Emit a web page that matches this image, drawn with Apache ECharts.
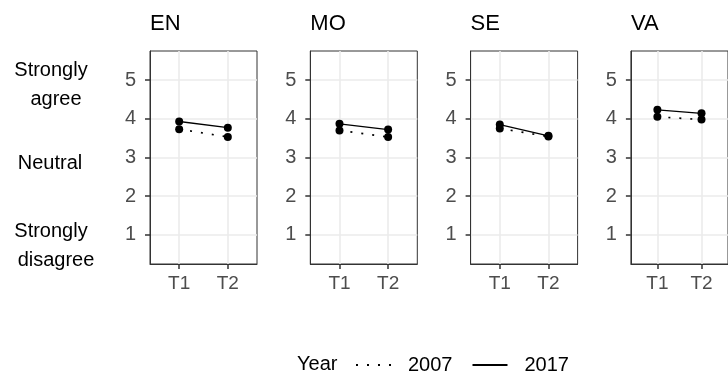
<!DOCTYPE html>
<html>
<head>
<meta charset="utf-8">
<script src="https://cdn.jsdelivr.net/npm/echarts@6/dist/echarts.min.js"></script>
<style>
  html, body { margin: 0; padding: 0; background: #fff; }
  #chart { width: 728px; height: 374px; }
</style>
</head>
<body>
<div id="chart"></div>
<script>
const panels = ['EN', 'MO', 'SE', 'VA'];
const times = ['T1', 'T2'];
const timePos = [1, 2];
const years = ['2007', '2017'];
// one row per panel: [T1, T2]
const values2007 = [[3.73, 3.53], [3.70, 3.53], [3.75, 3.54], [4.05, 3.98]];
const values2017 = [[3.93, 3.77], [3.87, 3.72], [3.85, 3.56], [4.23, 4.14]];
const yTicks = [1, 2, 3, 4, 5];
const scaleLabels = ['Strongly', 'agree', 'Neutral', 'Strongly', 'disagree'];

const FONT = "'Liberation Sans', Arial, sans-serif";
const chart = echarts.init(document.getElementById('chart'));

const grids = [], xAxes = [], yAxes = [], titles = [], series = [];

panels.forEach((p, i) => {
  const left = 150 + i * 160.3;
  grids.push({
    left: left, top: 51, width: 107, height: 213,
    show: true, borderColor: '#333', borderWidth: 1, backgroundColor: '#fff', z: 0
  });
  titles.push({
    text: p, left: left, top: 13, padding: 0,
    textStyle: { fontFamily: FONT, fontSize: 22, fontWeight: 'normal', color: '#000' }
  });
  xAxes.push({
    type: 'value', gridIndex: i, min: 0.4, max: 2.6,
    axisLine: { show: true, onZero: false, lineStyle: { color: '#333', width: 1 } },
    axisTick: { show: true, length: 5, customValues: timePos, lineStyle: { color: '#333', width: 1.5 } },
    axisLabel: {
      customValues: timePos, margin: 10,
      formatter: v => times[timePos.indexOf(v)] || '',
      fontFamily: FONT, fontSize: 19, color: '#4d4d4d'
    },
    splitLine: { show: true, lineStyle: { color: '#ebebeb', width: 1.6 } }
  });
  yAxes.push({
    type: 'value', gridIndex: i, min: 0.25, max: 5.75,
    axisLine: { show: true, onZero: false, lineStyle: { color: '#333', width: 1 } },
    axisTick: { show: true, length: 5, customValues: yTicks, lineStyle: { color: '#333', width: 1.5 } },
    axisLabel: {
      customValues: yTicks, margin: 14,
      fontFamily: FONT, fontSize: 20, color: '#4d4d4d'
    },
    splitLine: { show: true, lineStyle: { color: '#ebebeb', width: 1.6 } }
  });
  [values2007, values2017].forEach((vals, k) => {
    series.push({
      name: years[k], type: 'line', xAxisIndex: i, yAxisIndex: i,
      data: timePos.map((x, j) => [x, vals[i][j]]),
      symbol: 'circle', symbolSize: 8, showSymbol: true,
      itemStyle: { color: '#000' },
      lineStyle: k === 0
        ? { color: '#000', width: 1.7, type: [2, 9] }
        : { color: '#000', width: 1.3, type: 'solid' },
      z: 3, silent: true
    });
  });
});

// left-side scale words
const labelPos = [[51, 70], [56, 99], [50, 163], [51, 231], [56, 260]];
const graphics = scaleLabels.map((t, i) => ({
  type: 'text', x: labelPos[i][0], y: labelPos[i][1],
  style: { text: t, fontFamily: FONT, fontSize: 20, fill: '#000', align: 'center', verticalAlign: 'middle' }
}));
graphics.push({
  type: 'text', x: 297, y: 364,
  style: { text: 'Year', fontFamily: FONT, fontSize: 20, fill: '#000', align: 'left', verticalAlign: 'middle' }
});

chart.setOption({
  animation: false,
  backgroundColor: '#fff',
  title: titles,
  grid: grids,
  xAxis: xAxes,
  yAxis: yAxes,
  legend: {
    data: years, left: 355, top: 355, padding: 0,
    itemWidth: 35, itemHeight: 14, itemGap: 19,
    itemStyle: { opacity: 0 },
    textStyle: { fontFamily: FONT, fontSize: 20, color: '#000', padding: [0, 0, 0, 12] },
    selectedMode: false
  },
  graphic: graphics,
  series: series
});
</script>
</body>
</html>
